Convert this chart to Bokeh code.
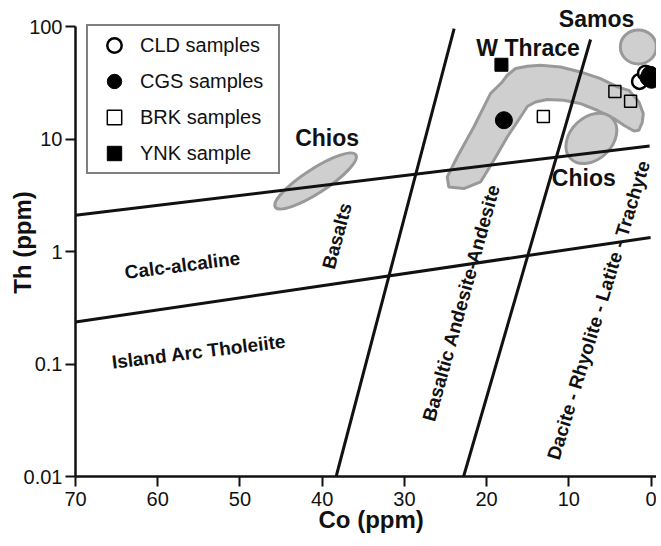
from bokeh.plotting import figure
from bokeh.models import (Range1d, FixedTicker, CustomJSTickFormatter, Label, Title,
                          Legend, LegendItem, ColumnDataSource)
from bokeh.embed import file_html
from bokeh.resources import INLINE

# ---------------- data ----------------
co_ticks = [70, 60, 50, 40, 30, 20, 10, 0]
th_ticks = [0.01, 0.1, 1, 10, 100]

# samples (Co ppm, Th ppm)
cld_co = [1.40, 0.67]
cld_th = [32.8, 38.8]
cgs_co = [17.9, 0.30, -0.05, 0.12]
cgs_th = [14.8, 35.3, 33.9, 37.6]
brk_co = [13.1, 4.40, 2.49]
brk_th = [16.0, 26.7, 21.8]
ynk_co = [18.2]
ynk_th = [46.1]

# discrimination boundaries (end points)
bound_co = [[70, 0.18], [70, 0.06], [38.3, 23.95], [22.8, 7.36]]
bound_th = [[2.11, 8.74], [0.237, 1.34], [0.01, 96.8], [0.01, 77.3]]

# W Thrace field outline
wthrace_co = [24.79, 23.58, 21.56, 19.53, 18.10, 17.49, 16.48, 15.06, 13.44, 11.01,
              8.58, 6.14, 4.11, 2.70, 1.48, 0.95, 1.07, 1.48, 2.09, 3.31,
              4.53, 6.55, 8.58, 10.61, 12.63, 14.05, 15.02, 15.88, 17.49, 19.12,
              20.74, 22.77, 24.60]
wthrace_th = [4.63, 6.97, 12.89, 25.56, 32.4, 37.2, 42.7, 44.7, 45.6, 44.1,
              39.8, 34.7, 29.3, 27.3, 21.5, 16.96, 14.2, 12.05, 11.88, 13.35,
              15.31, 18.15, 20.8, 22.3, 22.6, 21.5, 19.7, 15.82, 10.5, 6.52,
              4.18, 3.65, 3.77]

# elliptical fields: Chios (left), Chios (right), Samos
ell_co = [40.8, 7.26, 1.55]
ell_th = [4.26, 10.2, 66.4]
ell_w = [96, 58, 36]
ell_h = [24, 42, 34]
ell_angle = [33, 44, 0]

# field names
region_text = ["Chios", "Chios", "W Thrace", "Samos"]
region_co = [39.4, 8.18, 14.96, 6.63]
region_th = [10.2, 4.51, 65.3, 117]

field_text = ["Calc-alcaline", "Island Arc Tholeiite", "Basalts",
              "Basaltic Andesite-Andesite", "Dacite - Rhyolite - Latite - Trachyte"]
field_co = [57.0, 55.0, 38.2, 23.08, 6.39]
field_th = [0.758, 0.129, 1.38, 0.352, 0.302]
field_angle = [7.3, 7.0, 75, 74.5, 73]

FONT = "Liberation Sans"
INK = "#111111"

# ---------------- figure ----------------
p = figure(width=656, height=540, x_range=Range1d(70, -0.66), y_range=Range1d(0.01, 146),
           y_axis_type="log", output_backend="svg", toolbar_location=None,
           min_border_left=75, min_border_right=0, min_border_top=8, min_border_bottom=64)
p.outline_line_color = None
p.xgrid.visible = False
p.ygrid.visible = False

for ax in (p.xaxis[0], p.yaxis[0]):
    ax.axis_line_width = 2.5
    ax.axis_line_color = INK
    ax.major_tick_line_width = 2
    ax.major_tick_line_color = INK
    ax.major_tick_out = 10
    ax.major_tick_in = 0
    ax.minor_tick_line_color = None
    ax.major_label_text_font = FONT
    ax.major_label_text_font_size = "20px"
    ax.major_label_text_color = INK
    ax.axis_label_text_font = FONT
    ax.axis_label_text_font_size = "24px"
    ax.axis_label_text_font_style = "bold"
    ax.axis_label_text_color = INK

p.xaxis[0].ticker = FixedTicker(ticks=co_ticks)
p.xaxis[0].major_label_standoff = 5

p.yaxis[0].ticker = FixedTicker(ticks=th_ticks, minor_ticks=[])
p.yaxis[0].formatter = CustomJSTickFormatter(code="return String(tick)")
p.yaxis[0].major_label_standoff = 3
p.yaxis[0].bounds = (0.01, 100)
p.yaxis[0].axis_label = "Th (ppm)"
p.yaxis[0].axis_label_standoff = -15

# x-axis title, set slightly right of the frame centre as in the original
p.add_layout(Title(text="Co (ppm)", align="left", offset=243, vertical_align="top",
                   standoff=-5, text_font=FONT, text_font_size="24px",
                   text_font_style="bold", text_color=INK), "below")

# fields
p.patch(wthrace_co, wthrace_th, fill_color="#cfcfcf", line_color="#999999", line_width=3)
p.ellipse(x="x", y="y", width="w", height="h", angle="a",
          source=ColumnDataSource(dict(x=ell_co, y=ell_th, w=ell_w, h=ell_h, a=ell_angle)),
          width_units="screen", height_units="screen", angle_units="deg",
          fill_color="#cfcfcf", line_color="#999999", line_width=3)

# boundaries
p.multi_line(xs=bound_co, ys=bound_th, line_width=3, line_color=INK)

# samples
r_cld = p.scatter(cld_co, cld_th, marker="circle", size=15, fill_color="white",
                  line_color="black", line_width=2.5)
r_cgs = p.scatter(cgs_co, cgs_th, marker="circle", size=17, fill_color="black",
                  line_color="black", line_width=1)
r_brk = p.scatter(brk_co, brk_th, marker="square", size=12, fill_color=None,
                  line_color="black", line_width=1.5)
r_ynk = p.scatter(ynk_co, ynk_th, marker="square", size=13, fill_color="black",
                  line_color="black", line_width=1)

# labels
for t, c, th in zip(region_text, region_co, region_th):
    p.add_layout(Label(x=c, y=th, text=t, text_align="center", text_baseline="middle",
                       text_font=FONT, text_font_size="23px", text_font_style="bold",
                       text_color=INK))
for t, c, th, a in zip(field_text, field_co, field_th, field_angle):
    p.add_layout(Label(x=c, y=th, text=t, angle=a, angle_units="deg",
                       text_align="center", text_baseline="middle",
                       text_font=FONT, text_font_size="19px", text_font_style="bold",
                       text_color=INK))

legend = Legend(items=[LegendItem(label="CLD samples", renderers=[r_cld]),
                       LegendItem(label="CGS samples", renderers=[r_cgs]),
                       LegendItem(label="BRK samples", renderers=[r_brk]),
                       LegendItem(label="YNK sample", renderers=[r_ynk])],
                location=(11, 302), orientation="vertical", margin=0,
                glyph_width=50, glyph_height=36, spacing=0, padding=1,
                label_standoff=1, label_width=137,
                border_line_color="black", border_line_width=2,
                background_fill_color="white", background_fill_alpha=1,
                label_text_font=FONT, label_text_font_size="20px", label_text_color=INK)
p.add_layout(legend)

open("out.html", "w").write(file_html(p, INLINE))
